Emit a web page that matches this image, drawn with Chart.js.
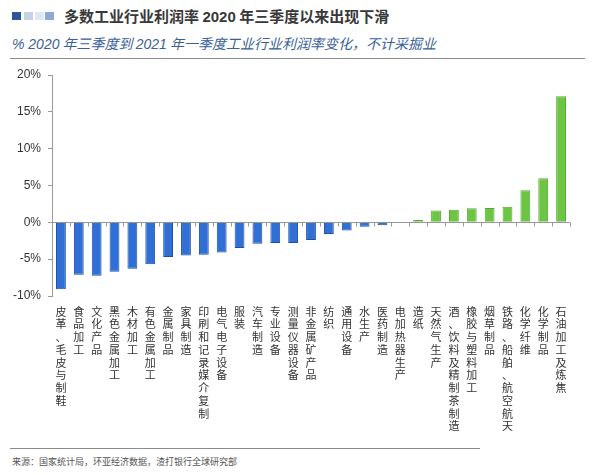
<!DOCTYPE html>
<html>
<head>
<meta charset="utf-8">
<script src="https://cdn.jsdelivr.net/npm/chart.js@4.4.0/dist/chart.umd.min.js"></script>
<style>
body { margin:0; width:600px; height:475px; background:#fff; position:relative; overflow:hidden;
  font-family:"Noto Sans CJK SC","Liberation Sans",sans-serif; }
.sq { position:absolute; top:12px; width:9px; height:8px; }
#title { position:absolute; left:64px; top:5px; font-size:15px; font-weight:bold; color:#383838; white-space:nowrap; }
#title .n { font-family:"Liberation Sans",sans-serif; }
#sub { position:absolute; left:12px; top:33px; font-size:14px; font-style:italic; color:#3b5f98; white-space:nowrap; }
#sub .n { font-family:"Liberation Sans",sans-serif; }
.rule { position:absolute; left:10px; height:1px; background:#8c8c8c; }
#chartBox { position:absolute; left:0; top:60px; width:600px; height:385px; }
#src { position:absolute; left:12px; top:455px; font-size:9px; color:#555; white-space:nowrap; }
</style>
</head>
<body>
<div class="sq" style="left:12px;background:#2f5597"></div>
<div class="sq" style="left:24px;background:#c7d4e8"></div>
<div class="sq" style="left:35px;background:#dfe7f2"></div>
<div class="sq" style="left:45px;background:#8ea9d6"></div>
<div id="title">多数工业行业利润率 <span class="n">2020</span> 年三季度以来出现下滑</div>
<div id="sub"><span class="n">% 2020</span> 年三季度到 <span class="n">2021</span> 年一季度工业行业利润率变化，不计采掘业</div>
<div class="rule" style="top:58px;width:575px"></div>
<div id="chartBox"><canvas id="myChart" width="600" height="385"></canvas></div>
<div class="rule" style="top:448px;width:470px"></div>
<div id="src">来源：国家统计局，环亚经济数据，渣打银行全球研究部</div>

<script>
// 行业（从左到右）
const categories = [
  '皮革、毛皮与制鞋', '食品加工', '文化产品', '黑色金属加工', '木材加工',
  '有色金属加工', '金属制品', '家具制造', '印刷和记录媒介复制', '电气电子设备',
  '服装', '汽车制造', '专业设备', '测量仪器设备', '非金属矿产品',
  '纺织', '通用设备', '水生产', '医药制造', '电加热器生产',
  '造纸', '天然气生产', '酒、饮料及精制茶制造', '橡胶与塑料加工', '烟草制品',
  '铁路、船舶、航空航天', '化学纤维', '化学制品', '石油加工及炼焦'
];
// 利润率变化（百分点）
const changes = [
  -9.1, -7.1, -7.25, -6.7, -6.3,
  -5.7, -4.7, -4.5, -4.4, -4.1,
  -3.5, -2.9, -2.8, -2.8, -2.4,
  -1.6, -1.1, -0.6, -0.4, -0.1,
  0.3, 1.6, 1.7, 1.9, 1.95,
  2.1, 4.35, 6.0, 17.1
];
const yTicks = [-10, -5, 0, 5, 10, 15, 20];

const blue = '#2f6fd6', blueEdge = '#1f4f9f';
const green = '#6cc644', greenEdge = '#58a838';

// 零线上的小刻度
const zeroTicks = {
  id: 'zeroTicks',
  afterDatasetsDraw(chart) {
    const xs = chart.scales.x, ys = chart.scales.y;
    const y0 = Math.round(ys.getPixelForValue(0)) + 0.5;
    const w = (xs.right - xs.left) / categories.length;
    const ctx = chart.ctx;
    ctx.save();
    ctx.strokeStyle = '#999';
    ctx.lineWidth = 1;
    ctx.beginPath();
    for (let i = 1; i <= categories.length; i++) {
      const bx = Math.round(xs.left + i * w) + 0.5;
      ctx.moveTo(bx, y0);
      ctx.lineTo(bx, y0 + 4);
    }
    ctx.stroke();
    ctx.restore();
  }
};

const data = {
  labels: categories.map(c => c.split('')),
  datasets: [{
    data: changes,
    backgroundColor: changes.map(v => v < 0 ? blue : green),
    borderColor: changes.map(v => v < 0 ? blueEdge : greenEdge),
    borderWidth: 1,
    barPercentage: 0.55,
    categoryPercentage: 1
  }]
};

const config = {
  type: 'bar',
  data: data,
  options: {
    responsive: false,
    animation: false,
    layout: { padding: { top: 15, right: 30, bottom: 0, left: 0 } },
    plugins: { legend: { display: false }, tooltip: { enabled: false } },
    scales: {
      x: {
        grid: { display: false },
        border: { display: false },
        afterFit(s) { s.height = 149; },
        ticks: {
          autoSkip: false, maxRotation: 0, minRotation: 0, padding: 1,
          color: '#333',
          font: { family: '"Noto Sans CJK SC", sans-serif', size: 11, lineHeight: 1.16 }
        }
      },
      y: {
        min: -10, max: 20,
        afterFit(s) { s.width = 52; },
        afterBuildTicks(s) { s.ticks = yTicks.map(v => ({ value: v })); },
        border: { display: true, color: '#999' },
        grid: {
          color: ctx => ctx.tick && ctx.tick.value === 0 ? '#999' : 'rgba(0,0,0,0)',
          tickColor: '#999',
          tickLength: 4
        },
        ticks: {
          padding: 7,
          color: '#333',
          font: { family: '"Liberation Sans", sans-serif', size: 12 },
          callback: v => v + '%'
        }
      }
    }
  },
  plugins: [zeroTicks]
};

new Chart(document.getElementById('myChart'), config);
</script>
</body>
</html>
